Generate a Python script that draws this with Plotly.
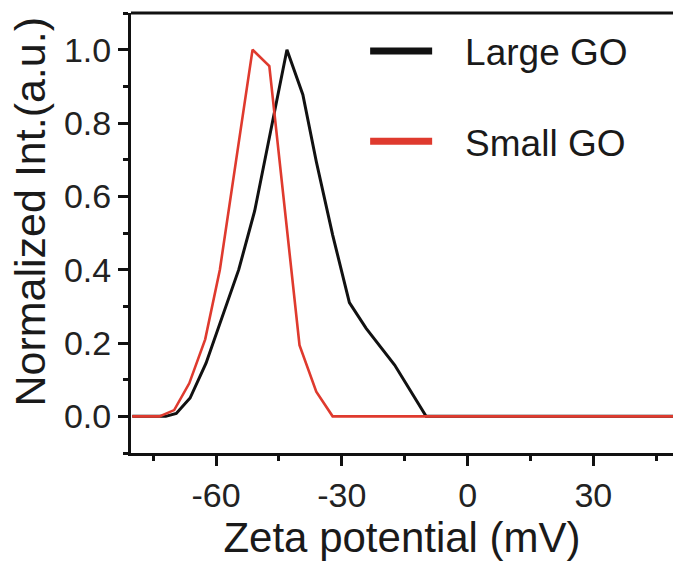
import plotly.graph_objects as go

# Data
large_x = [-80, -72.0, -69.5, -66.2, -62.4, -58.5, -54.6, -50.8, -47.8, -43.1, -39.3, -36.1, -32.2, -28.2, -24.2, -17.4, -9.9, 49]
large_y = [0, 0, 0.008, 0.05, 0.145, 0.27, 0.40, 0.56, 0.73, 1.0, 0.877, 0.695, 0.495, 0.31, 0.24, 0.14, 0, 0]

small_x = [-80, -73.5, -70.0, -66.4, -62.6, -59.1, -55.2, -51.3, -47.3, -43.7, -40.1, -36.1, -32.2, 49]
small_y = [0, 0, 0.017, 0.09, 0.21, 0.40, 0.70, 1.0, 0.955, 0.575, 0.194, 0.067, 0, 0]

names = ["Large GO", "Small GO"]
colors = ["#111111", "#df3a2e"]

x_ticks = [-60, -30, 0, 30]
y_ticks = [0.0, 0.2, 0.4, 0.6, 0.8, 1.0]

FONT = "Arial, Liberation Sans, sans-serif"
GAP = "\u00a0\u00a0\u2009"

fig = go.Figure()
for i, (xs, ys) in enumerate([(large_x, large_y), (small_x, small_y)]):
    fig.add_trace(go.Scatter(x=xs, y=ys, mode="lines", showlegend=False,
                             line=dict(color=colors[i], width=3 if i == 0 else 2.6)))
# legend entries (thicker samples)
for i in range(2):
    fig.add_trace(go.Scatter(x=[None], y=[None], mode="lines", name=GAP + names[i],
                             legendgroup=names[i],
                             line=dict(color=colors[i], width=7)))

fig.update_layout(
    width=673, height=564,
    margin=dict(l=131, r=0, t=13, b=111),
    paper_bgcolor="white", plot_bgcolor="white",
    font=dict(family=FONT, color="#1a1a1a"),
    showlegend=True,
    legend=dict(x=0.432, y=0.983, xanchor="left", yanchor="top",
                font=dict(size=37, family=FONT, color="#1a1a1a"),
                bgcolor="rgba(0,0,0,0)", traceorder="grouped",
                tracegroupgap=39, itemwidth=62),
    xaxis=dict(range=[-80.3, 49], showline=True, linecolor="#111", linewidth=3,
               mirror=False, showgrid=False, zeroline=False,
               tickmode="array", tickvals=x_ticks, ticktext=[str(v) for v in x_ticks],
               ticks="outside", ticklen=10, tickwidth=3, tickcolor="#111",
               tickfont=dict(size=34, family=FONT, color="#222"),
               minor=dict(dtick=15, tick0=0, ticks="outside", ticklen=5, tickwidth=3, tickcolor="#111"),
               title=dict(text="Zeta potential (mV)", font=dict(size=42, family=FONT, color="#1a1a1a"),
                          standoff=8)),
    yaxis=dict(range=[-0.1, 1.1], showline=True, linecolor="#111", linewidth=3,
               mirror=False, showgrid=False, zeroline=False,
               tickmode="array", tickvals=y_ticks, ticktext=[f"{v:.1f}" for v in y_ticks],
               ticks="outside", ticklen=10, tickwidth=3, tickcolor="#111",
               tickfont=dict(size=34, family=FONT, color="#222"),
               minor=dict(dtick=0.1, tick0=0, ticks="outside", ticklen=5, tickwidth=3, tickcolor="#111")),
    shapes=[dict(type="line", xref="paper", yref="paper", x0=0, x1=1, y0=1, y1=1,
                 line=dict(color="#111", width=3))],
    annotations=[dict(text="Normalized Int.(a.u.)", xref="paper", yref="paper",
                      x=-0.187, y=0.548, xanchor="center", yanchor="middle",
                      textangle=-90, showarrow=False,
                      font=dict(size=43, family=FONT, color="#1a1a1a"))],
)

fig.write_html("out.html")
